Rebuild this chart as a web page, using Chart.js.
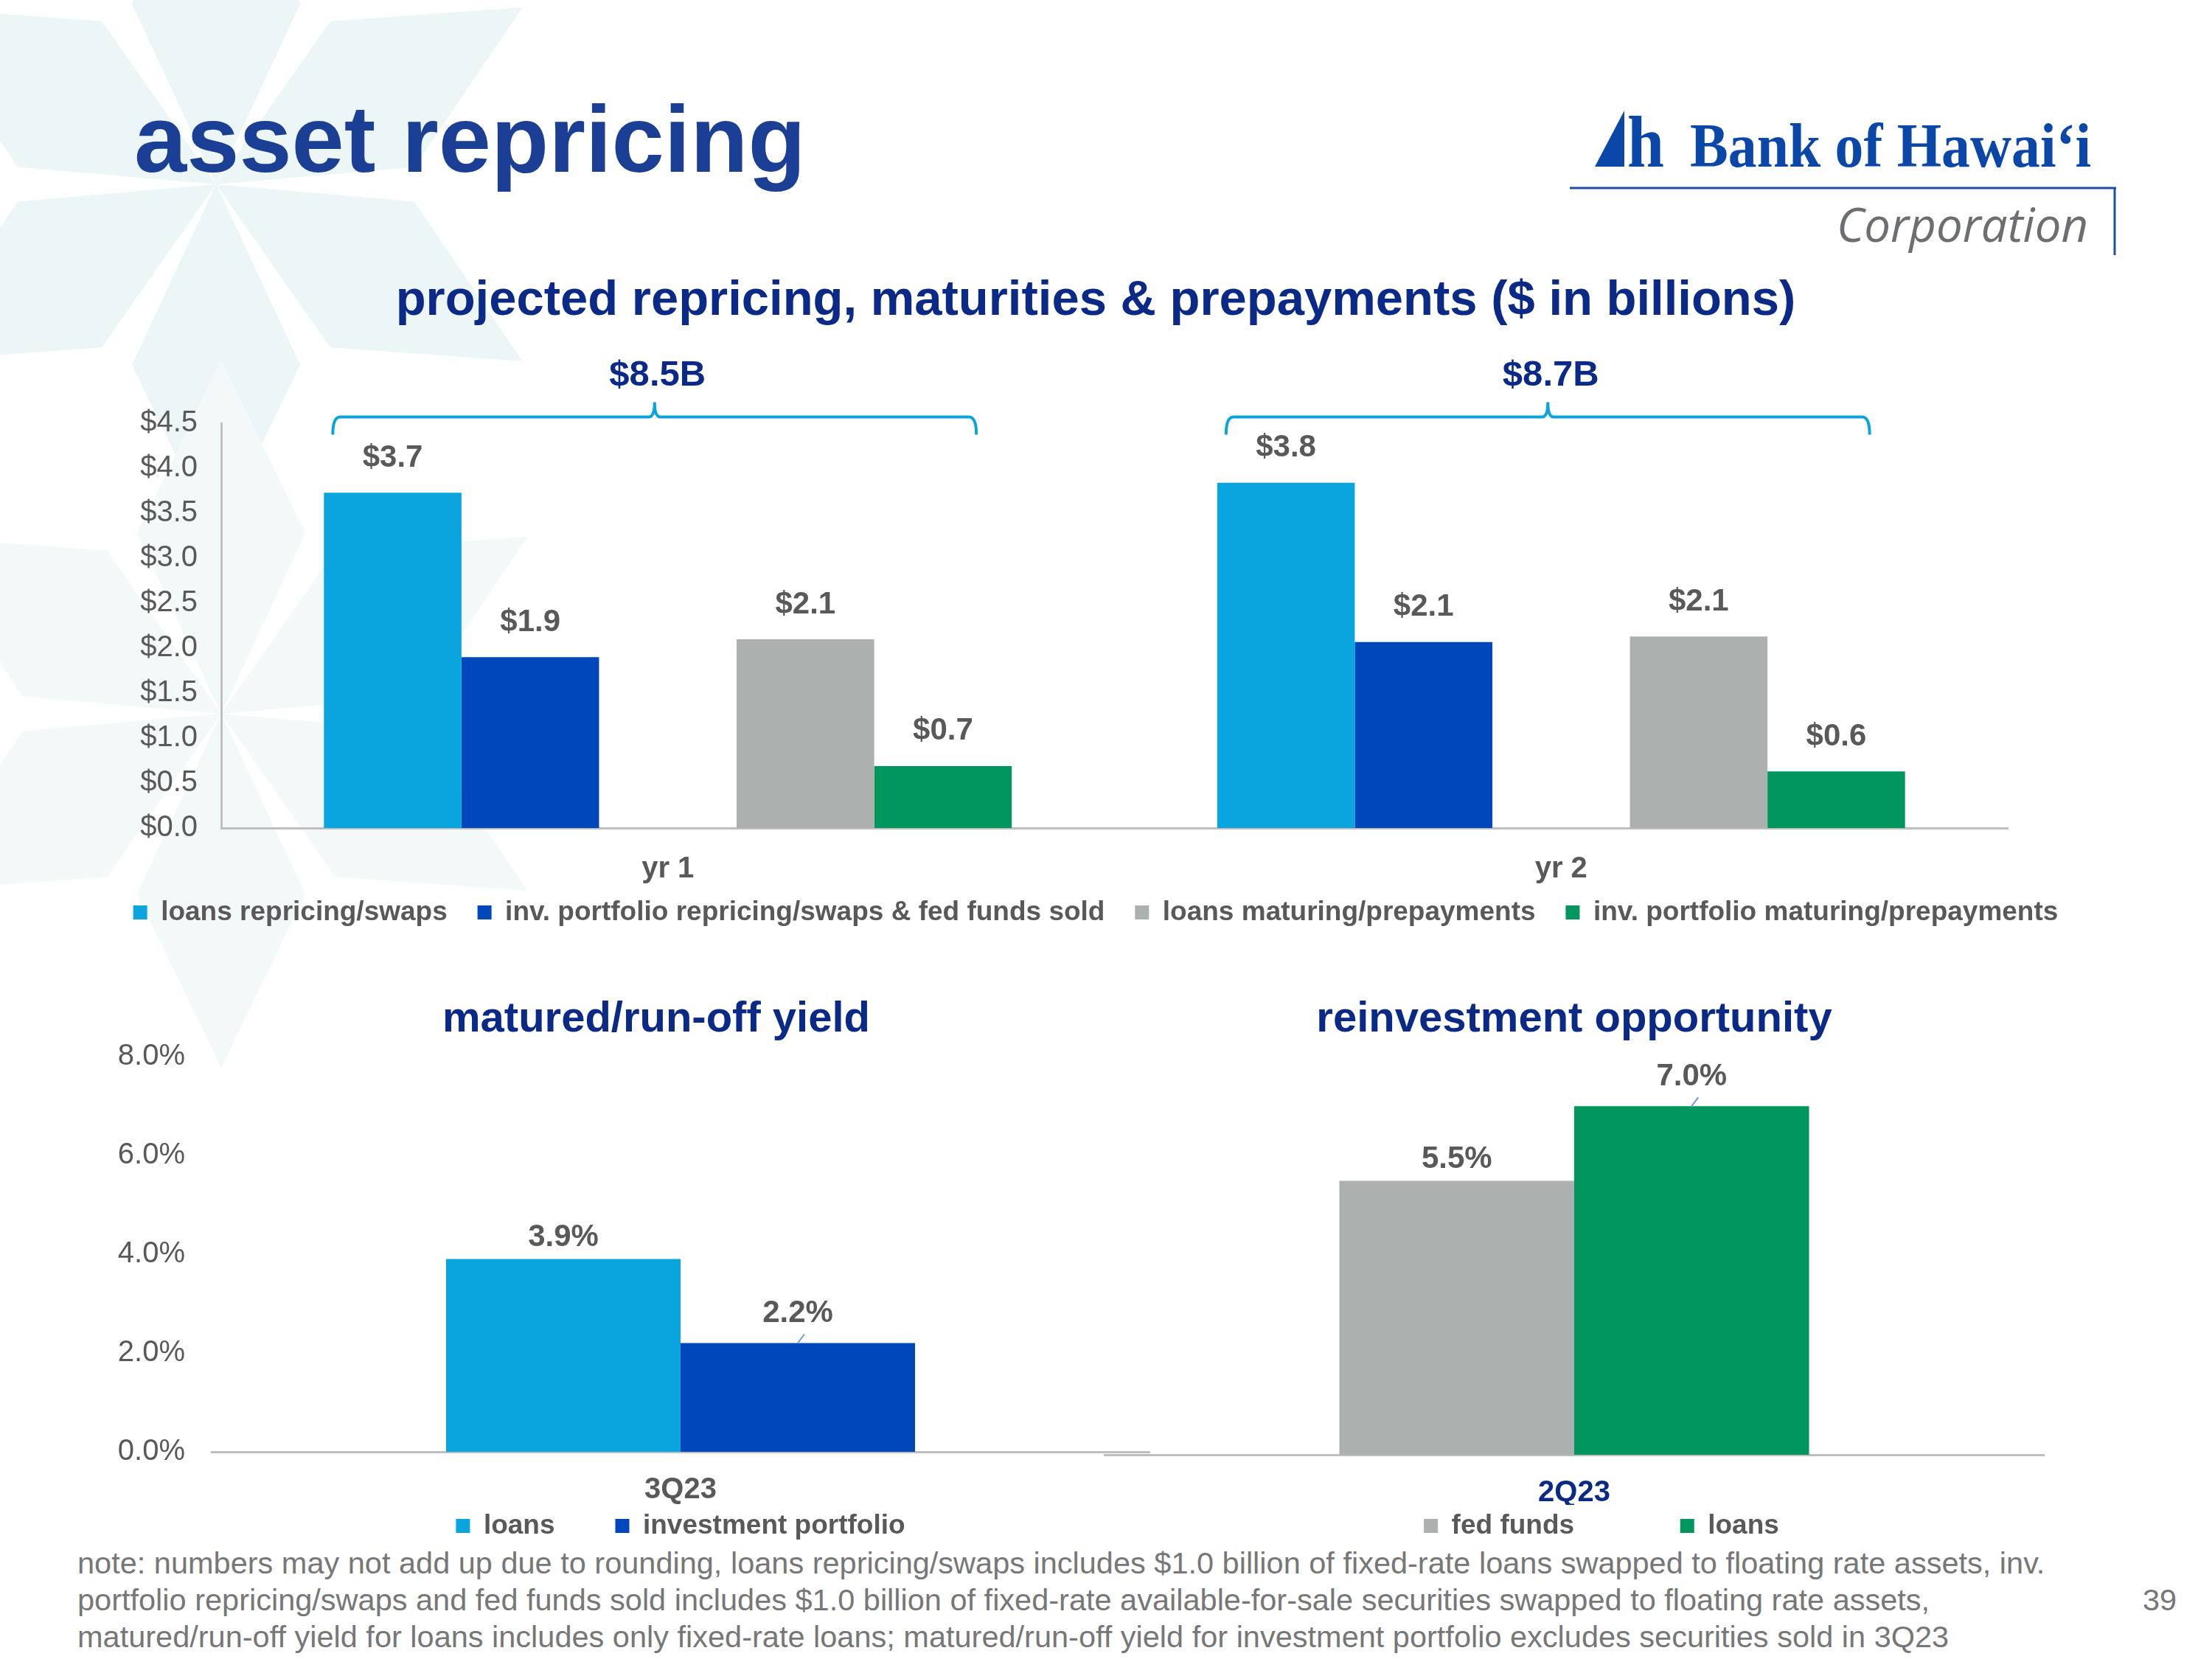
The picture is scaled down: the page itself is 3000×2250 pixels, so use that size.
<!DOCTYPE html>
<html>
<head>
<meta charset="utf-8">
<script src="https://cdn.jsdelivr.net/npm/chart.js@4.4.1/dist/chart.umd.min.js"></script>
<style>
  html, body { margin: 0; padding: 0; background: #fff; }
  body { width: 3000px; height: 2250px; position: relative; overflow: hidden; }
  #page { position: absolute; left: 0; top: 0; }
  canvas { position: absolute; }
</style>
</head>
<body>
<svg id="page" width="3000" height="2250" xmlns="http://www.w3.org/2000/svg">
  <g id="stars"></g>
  <text x="182" y="233" font-family="Liberation Sans, Arial, sans-serif" font-size="128" font-weight="bold" fill="#1c3f96">asset repricing</text>
  <!-- logo -->
  <polygon points="2163,226 2203,150 2203,226" fill="#0b47a8"/>
  <text x="2207" y="226" font-family="Liberation Serif, serif" font-size="100" font-weight="bold" fill="#0b47a8" textLength="50" lengthAdjust="spacingAndGlyphs">h</text>
  <text x="2292" y="226" font-family="Liberation Serif, DejaVu Serif, serif" font-size="84" font-weight="bold" fill="#0b47a8" textLength="544" lengthAdjust="spacingAndGlyphs">Bank of Hawaiʻi</text>
  <line x1="2129" y1="255" x2="2870" y2="255" stroke="#1d4fa5" stroke-width="3"/>
  <line x1="2868" y1="254" x2="2868" y2="346" stroke="#1d4fa5" stroke-width="3"/>
  <text x="2491" y="328" font-family="Open Sans, Noto Sans, sans-serif" font-style="italic" font-size="64" fill="#6d6e71" textLength="341" lengthAdjust="spacingAndGlyphs">Corporation</text>
  <!-- footnote -->
  <g font-family="Liberation Sans, Arial, sans-serif" font-size="41.5" fill="#777777">
    <text x="105" y="2134">note: numbers may not add up due to rounding, loans repricing/swaps includes $1.0 billion of fixed-rate loans swapped to floating rate assets, inv.</text>
    <text x="105" y="2184">portfolio repricing/swaps and fed funds sold includes $1.0 billion of fixed-rate available-for-sale securities swapped to floating rate assets,</text>
    <text x="105" y="2234">matured/run-off yield for loans includes only fixed-rate loans; matured/run-off yield for investment portfolio excludes securities sold in 3Q23</text>
    <text x="2906" y="2184">39</text>
  </g>
</svg>

<canvas id="repricingChart" width="2972" height="926" style="left:0;top:340px"></canvas>
<canvas id="runoffChart" width="1780" height="798" style="left:0;top:1300px"></canvas>
<canvas id="reinvestChart" width="1544" height="798" style="left:1400px;top:1300px"></canvas>

<script>
// data
const periods = ['yr 1', 'yr 2']
const loansRepricing = [3.73, 3.84]
const invRepricing = [1.90, 2.07]
const loansMaturing = [2.10, 2.13]
const invMaturing = [0.69, 0.63]
const periodTotals = [8.5, 8.7]
const dollarTicks = ['$0.0', '$0.5', '$1.0', '$1.5', '$2.0', '$2.5', '$3.0', '$3.5', '$4.0', '$4.5']

const runoffQuarter = ['3Q23']
const runoffLoans = [3.9]
const runoffInvestments = [2.2]
const reinvestQuarter = ['2Q23']
const reinvestFedFunds = [5.5]
const reinvestLoans = [7.0]
const percentTicks = ['0.0%', '2.0%', '4.0%', '6.0%', '8.0%']

// colours
const LIGHT_BLUE = '#0aa5de'
const DARK_BLUE = '#0047bb'
const GRAY = '#acb1b0'
const GREEN = '#00965e'
const NAVY = '#0b2a87'
const TEXT_GRAY = '#595959'
const AXIS = '#bfbfbf'
const FONT = '"Liberation Sans", Arial, sans-serif'

Chart.defaults.font.family = FONT
Chart.defaults.color = TEXT_GRAY
Chart.defaults.animation = false
Chart.defaults.plugins.tooltip.enabled = false

// background star shapes
const starGroup = document.getElementById('stars')
const drawStar = (cx, cy, len, side, spread, fill) => {
  for (let k = 0; k < 6; k++) {
    const a = (-90 + k * 60) * Math.PI / 180
    const s = spread * Math.PI / 180
    const pts = [
      [cx, cy],
      [cx + side * Math.cos(a - s), cy + side * Math.sin(a - s)],
      [cx + len * Math.cos(a), cy + len * Math.sin(a)],
      [cx + side * Math.cos(a + s), cy + side * Math.sin(a + s)]
    ]
    const p = document.createElementNS('http://www.w3.org/2000/svg', 'polygon')
    p.setAttribute('points', pts.map(q => q.join(',')).join(' '))
    p.setAttribute('fill', fill)
    starGroup.appendChild(p)
  }
}
drawStar(293, 250, 480, 270, 25, '#ecf6f7')
drawStar(300, 968, 480, 270, 25, '#f3f9f9')

// legend labels with wider gaps between entries
const spacedLabels = spaces => chart => {
  const items = Chart.defaults.plugins.legend.labels.generateLabels(chart).filter(it => it.text !== '')
  return items.map((it, i) => i < items.length - 1 ? { ...it, text: it.text + ' '.repeat(spaces) } : it)
}

// value labels above bars
const valueLabels = (format, lift) => ({
  id: 'valueLabels',
  afterDatasetsDraw(chart) {
    const ctx = chart.ctx
    ctx.save()
    ctx.font = 'bold 42px ' + FONT
    ctx.fillStyle = TEXT_GRAY
    ctx.textAlign = 'center'
    ctx.textBaseline = 'middle'
    chart.data.datasets.forEach((ds, i) => {
      if (!ds.label) return
      chart.getDatasetMeta(i).data.forEach((bar, j) => {
        const v = ds.data[j]
        if (v == null) return
        const up = ds.labelLift || lift
        ctx.fillText(format(v), bar.x, bar.y - up)
        if (ds.leader) {
          ctx.strokeStyle = '#7097ec'
          ctx.lineWidth = 2
          ctx.beginPath()
          ctx.moveTo(bar.x, bar.y)
          ctx.lineTo(bar.x + 9, bar.y - 12)
          ctx.stroke()
        }
      })
    })
    ctx.restore()
  }
})

// curly brackets with the period totals
const totalBrackets = {
  id: 'totalBrackets',
  afterDatasetsDraw(chart) {
    const ctx = chart.ctx
    const first = chart.getDatasetMeta(0).data
    const last = chart.getDatasetMeta(4).data
    const y = chart.chartArea.top - 9
    ctx.save()
    periodTotals.forEach((total, i) => {
      const left = first[i].x - first[i].width / 2 + 12
      const right = last[i].x + last[i].width / 2 - 48
      const mid = (left + right) / 2
      ctx.strokeStyle = '#0ba3dd'
      ctx.lineWidth = 4
      ctx.beginPath()
      ctx.moveTo(left, y + 24)
      ctx.quadraticCurveTo(left, y, left + 10, y)
      ctx.lineTo(mid - 8, y)
      ctx.quadraticCurveTo(mid, y, mid, y - 20)
      ctx.quadraticCurveTo(mid, y, mid + 8, y)
      ctx.lineTo(right - 10, y)
      ctx.quadraticCurveTo(right, y, right, y + 24)
      ctx.stroke()
      ctx.fillStyle = NAVY
      ctx.font = 'bold 49px ' + FONT
      ctx.textAlign = 'center'
      ctx.textBaseline = 'middle'
      ctx.fillText('$' + total.toFixed(1) + 'B', mid + 4, y - 56)
    })
    ctx.restore()
  }
}

// spacer axis on the right so title/legend centre like the slide
const rightPad = width => ({
  position: 'right',
  display: true,
  grid: { display: false, drawTicks: false },
  border: { display: false },
  ticks: { display: false },
  afterFit: s => { s.width = width }
})

// top chart
new Chart(document.getElementById('repricingChart'), {
  type: 'bar',
  data: {
    labels: periods,
    datasets: [
      { label: 'loans repricing/swaps', data: loansRepricing, backgroundColor: LIGHT_BLUE },
      { label: 'inv. portfolio repricing/swaps & fed funds sold', data: invRepricing, backgroundColor: DARK_BLUE },
      { label: '', data: periods.map(() => null), backgroundColor: 'rgba(0,0,0,0)' },
      { label: 'loans maturing/prepayments', data: loansMaturing, backgroundColor: GRAY },
      { label: 'inv. portfolio maturing/prepayments', data: invMaturing, backgroundColor: GREEN }
    ]
  },
  options: {
    responsive: false,
    datasets: { bar: { categoryPercentage: 0.77, barPercentage: 1, borderWidth: 0 } },
    layout: { padding: 0 },
    plugins: {
      title: {
        display: true,
        text: 'projected repricing, maturities & prepayments ($ in billions)',
        color: NAVY,
        font: { size: 67, weight: 'bold' },
        padding: { top: 28, bottom: 126 }
      },
      legend: {
        position: 'bottom',
        labels: {
          generateLabels: spacedLabels(3),
          boxWidth: 19,
          boxHeight: 19,
          padding: 10,
          color: TEXT_GRAY,
          font: { size: 37, weight: 'bold' }
        }
      }
    },
    scales: {
      x: {
        grid: { display: false, drawTicks: false },
        border: { color: AXIS, width: 3 },
        ticks: { color: TEXT_GRAY, font: { size: 40, weight: 'bold' }, padding: 32 },
        afterFit: s => { s.height = 86 }
      },
      y: {
        min: 0,
        max: 4.5,
        grid: { display: false, drawTicks: false },
        border: { color: AXIS, width: 3 },
        ticks: { stepSize: 0.5, callback: (v, i) => dollarTicks[i], color: TEXT_GRAY, font: { size: 40 }, padding: 32 },
        afterFit: s => { s.width = 300 }
      },
      pad: rightPad(249)
    }
  },
  plugins: [valueLabels(v => '$' + v.toFixed(1), 47), totalBrackets]
})

// bottom charts share this setup
const yieldOptions = (title, opts) => ({
  responsive: false,
  datasets: { bar: { categoryPercentage: 0.5, barPercentage: 1, borderWidth: 0 } },
  layout: { padding: 0 },
  plugins: {
    title: {
      display: true,
      text: title,
      fullSize: opts.titleFull,
      color: NAVY,
      font: { size: 58, weight: 'bold' },
      padding: { top: 48, bottom: 15 }
    },
    legend: {
      position: 'bottom',
      fullSize: !opts.titleFull,
      labels: {
        generateLabels: spacedLabels(opts.spaces),
        boxWidth: 19,
        boxHeight: 19,
        padding: 10,
        color: TEXT_GRAY,
        font: { size: 37, weight: 'bold' }
      }
    }
  },
  scales: {
    x: {
      grid: { display: false, drawTicks: false },
      border: { color: AXIS, width: 3 },
      ticks: { color: opts.tickColor, font: { size: 40, weight: 'bold' }, padding: 28 },
      afterFit: s => { s.height = opts.axisHeight }
    },
    y: {
      min: 0,
      max: 8,
      grid: { display: false, drawTicks: false },
      border: { display: false },
      ticks: { display: opts.showTicks, stepSize: 2, callback: (v, i) => percentTicks[i], color: TEXT_GRAY, font: { size: 40 }, padding: 36 },
      afterFit: s => { s.width = opts.leftWidth }
    },
    pad: rightPad(opts.rightWidth)
  }
})

new Chart(document.getElementById('runoffChart'), {
  type: 'bar',
  data: {
    labels: runoffQuarter,
    datasets: [
      { label: 'loans', data: runoffLoans, backgroundColor: LIGHT_BLUE },
      { label: 'investment portfolio', data: runoffInvestments, backgroundColor: DARK_BLUE, labelLift: 40, leader: true }
    ]
  },
  options: yieldOptions('matured/run-off yield', {
    titleFull: true, spaces: 7, tickColor: TEXT_GRAY, axisHeight: 72,
    showTicks: true, leftWidth: 287, rightWidth: 221
  }),
  plugins: [valueLabels(v => v.toFixed(1) + '%', 29)]
})

new Chart(document.getElementById('reinvestChart'), {
  type: 'bar',
  data: {
    labels: reinvestQuarter,
    datasets: [
      { label: 'fed funds', data: reinvestFedFunds, backgroundColor: GRAY },
      { label: 'loans', data: reinvestLoans, backgroundColor: GREEN, labelLift: 40, leader: true }
    ]
  },
  options: yieldOptions('reinvestment opportunity', {
    titleFull: false, spaces: 13, tickColor: NAVY, axisHeight: 68,
    showTicks: false, leftWidth: 98, rightWidth: 172
  }),
  plugins: [valueLabels(v => v.toFixed(1) + '%', 29)]
})
</script>
</body>
</html>
